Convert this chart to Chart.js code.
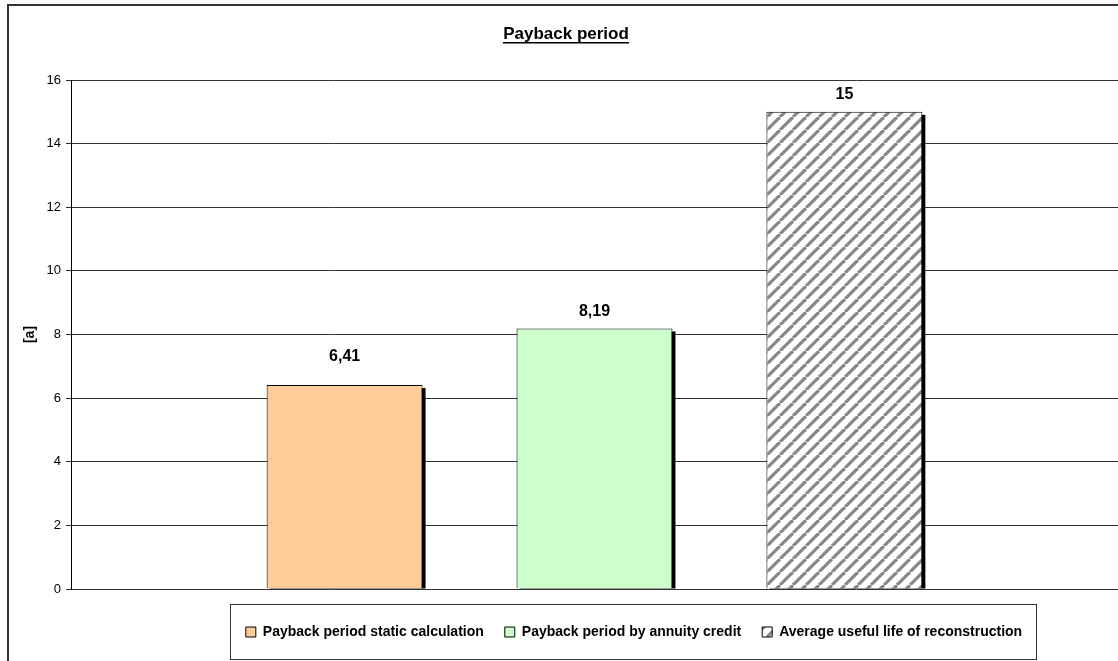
<!DOCTYPE html>
<html>
<head>
<meta charset="utf-8">
<script src="https://cdn.jsdelivr.net/npm/chart.js@4.4.1/dist/chart.umd.min.js"></script>
<style>
  html, body { margin: 0; padding: 0; background: #fff; }
  #wrap { width: 1118px; height: 661px; }
</style>
</head>
<body>
<div id="wrap"><canvas id="c" width="1118" height="661"></canvas></div>
<script>
const categories = [''];
const seriesLabels = ['Payback period static calculation', 'Payback period by annuity credit', 'Average useful life of reconstruction'];
const seriesValues = [6.41, 8.19, 15];
const seriesColors = ['#FFCC99', '#CCFFCC', 'hatch'];
const yMin = 0, yMax = 16, yStep = 2;
const chartTitle = 'Payback period';
const yAxisTitle = '[a]';

const FONT = "'Liberation Sans', Arial, Helvetica, sans-serif";

function makeHatch() {
  const p = 13;
  const c = document.createElement('canvas');
  c.width = p; c.height = p;
  const g = c.getContext('2d');
  g.fillStyle = '#ffffff';
  g.fillRect(0, 0, p, p);
  g.strokeStyle = '#888888';
  g.lineWidth = 3.2;
  for (let k = -1; k <= 1; k++) {
    g.beginPath();
    g.moveTo(k * p, p);
    g.lineTo(k * p + p, 0);
    g.stroke();
  }
  return document.getElementById('c').getContext('2d').createPattern(c, 'repeat');
}
const hatch = makeHatch();

const datasets = seriesLabels.map((lab, i) => ({
  label: lab,
  data: [seriesValues[i]],
  backgroundColor: seriesColors[i] === 'hatch' ? hatch : seriesColors[i],
  borderColor: '#000',
  borderWidth: 1,
  categoryPercentage: 0.716,
  barPercentage: 0.624
}));

const frame = {
  id: 'frame',
  beforeDraw(chart) {
    const ctx = chart.ctx;
    ctx.save();
    ctx.fillStyle = '#fff';
    ctx.fillRect(0, 0, chart.width, chart.height);
    ctx.strokeStyle = '#333';
    ctx.lineWidth = 2;
    ctx.strokeRect(8, 5, chart.width + 20, chart.height + 20);
    ctx.restore();
  }
};

const legendPlace = {
  id: 'legendPlace',
  afterLayout(chart) {
    const l = chart.legend;
    const dx = 68;
    l.left += dx; l.right += dx;
  },
  beforeDraw(chart) {
    const l = chart.legend;
    const P = l.options.labels.padding;
    const lw = l.lineWidths[0] - P;
    const cx = (l.left + l.right) / 2;
    const ctx = chart.ctx;
    ctx.save();
    ctx.strokeStyle = '#333';
    ctx.lineWidth = 1;
    const x0 = Math.round(cx - lw / 2 - 16) + 0.5;
    const x1 = Math.round(cx + lw / 2 + 14) + 0.5;
    const y0 = Math.round(l.top) + 0.5;
    ctx.strokeRect(x0, y0, x1 - x0, 55);
    ctx.restore();
  }
};

const shadows = {
  id: 'shadows',
  beforeDatasetsDraw(chart) {
    const ctx = chart.ctx;
    ctx.save();
    ctx.fillStyle = '#000';
    chart.data.datasets.forEach((ds, i) => {
      const meta = chart.getDatasetMeta(i);
      meta.data.forEach(el => {
        const p = el.getProps(['x', 'y', 'base', 'width'], true);
        ctx.fillRect(p.x - p.width / 2 + 3, p.y + 3, p.width, p.base - p.y - 3);
      });
    });
    ctx.restore();
  }
};

const valueLabels = {
  id: 'valueLabels',
  afterDatasetsDraw(chart, args, opts) {
    const ctx = chart.ctx;
    const offsets = opts.offsets || [];
    ctx.save();
    ctx.font = 'bold 16px ' + FONT;
    ctx.fillStyle = '#000';
    ctx.textAlign = 'center';
    ctx.textBaseline = 'middle';
    chart.data.datasets.forEach((ds, i) => {
      const meta = chart.getDatasetMeta(i);
      meta.data.forEach((el, j) => {
        const p = el.getProps(['x', 'y'], true);
        ctx.fillText(String(ds.data[j]).replace('.', ','), p.x, p.y - (offsets[i] || 17));
      });
    });
    ctx.restore();
  }
};

const titleUnderline = {
  id: 'titleUnderline',
  afterDraw(chart) {
    const t = chart.titleBlock;
    const o = t.options;
    const ctx = chart.ctx;
    ctx.save();
    ctx.font = 'bold ' + o.font.size + 'px ' + FONT;
    const w = ctx.measureText(o.text).width;
    const cx = (t.left + t.right) / 2;
    const cy = t.top + o.padding.top + o.font.size * 1.2 / 2;
    ctx.fillStyle = '#000';
    ctx.fillRect(Math.round(cx - w / 2), Math.round(cy + 8), Math.round(w), 1.5);
    ctx.restore();
  }
};

new Chart(document.getElementById('c'), {
  type: 'bar',
  data: { labels: categories, datasets },
  options: {
    responsive: false,
    animation: false,
    devicePixelRatio: 1,
    layout: { padding: { left: 14, right: 0, top: 5, bottom: 12 } },
    plugins: {
      title: {
        display: true,
        text: chartTitle,
        color: '#000',
        font: { family: FONT, size: 17, weight: 'bold' },
        padding: { top: 19, bottom: 35.6 }
      },
      legend: {
        display: true,
        position: 'bottom',
        labels: {
          color: '#000',
          font: { family: FONT, size: 14, weight: 'bold' },
          boxWidth: 10,
          boxHeight: 10,
          padding: 21
        }
      },
      tooltip: { enabled: false },
      valueLabels: { offsets: [28, 17, 17] }
    },
    scales: {
      x: {
        display: true,
        grid: { display: false },
        border: { display: false },
        ticks: { display: false },
        afterFit(s) { s.height = 15; }
      },
      y: {
        min: yMin,
        max: yMax,
        ticks: {
          stepSize: yStep,
          color: '#000',
          padding: 5,
          font: { family: FONT, size: 13 }
        },
        grid: { color: '#333', lineWidth: 1, tickLength: 5, drawTicks: true },
        border: { display: true, color: '#000', width: 1 },
        title: {
          display: true,
          text: yAxisTitle,
          color: '#000',
          font: { family: FONT, size: 14, weight: 'bold' },
          padding: { top: 8, bottom: 0 }
        },
        afterFit(s) { s.width = 57; }
      }
    }
  },
  plugins: [frame, legendPlace, shadows, valueLabels, titleUnderline]
});
</script>
</body>
</html>
